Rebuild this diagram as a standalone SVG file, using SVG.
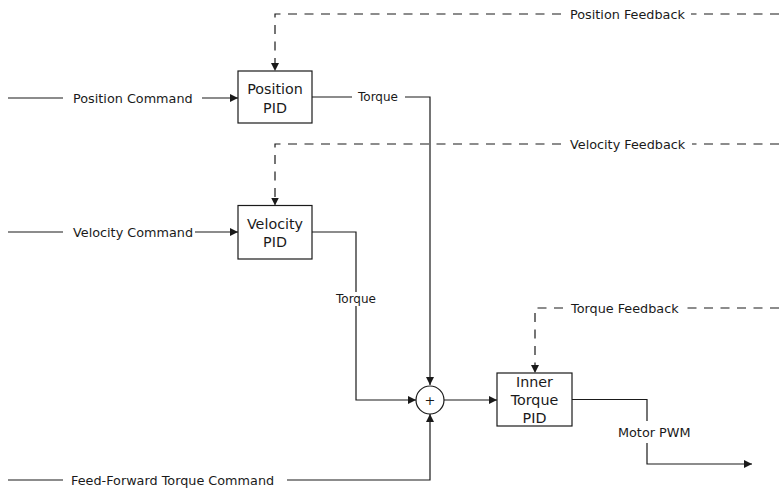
<svg xmlns="http://www.w3.org/2000/svg" width="779" height="489" viewBox="0 0 779 489">
<style>
.bg{fill:#ffffff}
.box{fill:#ffffff;stroke:#1a1a1a;stroke-width:1.2}
.ln{fill:none;stroke:#1a1a1a;stroke-width:1.2}
.dash{fill:none;stroke:#1a1a1a;stroke-width:1.2;stroke-dasharray:9,7.5}
.lbl{font-family:"DejaVu Sans",sans-serif;font-size:12.8px;fill:#1a1a1a}
.sm{font-family:"DejaVu Sans",sans-serif;font-size:12px;fill:#1a1a1a}
.bt{font-family:"DejaVu Sans",sans-serif;font-size:14.3px;fill:#1a1a1a;text-anchor:middle}
.plus{font-family:"DejaVu Sans",sans-serif;font-size:13px;fill:#1a1a1a;text-anchor:middle}
</style>
<defs>
<marker id="ah" markerUnits="userSpaceOnUse" markerWidth="9" markerHeight="9" refX="8" refY="4" orient="auto">
<path d="M0,0 L8,4 L0,8 z" fill="#1a1a1a"/>
</marker>
</defs>
<rect class="bg" x="0" y="0" width="779" height="489"/>
<g id="connectors">
<path class="ln" d="M8,98 H63"/>
<text class="lbl" x="73" y="102.5">Position Command</text>
<path class="ln" d="M202,98 H238" marker-end="url(#ah)"/>
<path class="ln" d="M8,232 H63"/>
<text class="lbl" x="73" y="236.5">Velocity Command</text>
<path class="ln" d="M195,232 H238" marker-end="url(#ah)"/>
<path class="ln" d="M8,480 H63"/>
<text class="lbl" x="71" y="484.5">Feed-Forward Torque Command</text>
<path class="ln" d="M287,480 H430 V414" marker-end="url(#ah)"/>
<path class="dash" d="M779,14 H691"/>
<text class="lbl" x="570" y="18.5">Position Feedback</text>
<path class="dash" d="M561,14 H275 V71" marker-end="url(#ah)"/>
<path class="dash" d="M779,144 H692"/>
<text class="lbl" x="570" y="148.5">Velocity Feedback</text>
<path class="dash" d="M561,144 H275 V205.5" marker-end="url(#ah)"/>
<path class="dash" d="M779,308 H684"/>
<text class="lbl" x="571" y="312.5">Torque Feedback</text>
<path class="dash" d="M563,308 H535 V373" marker-end="url(#ah)"/>
<path class="ln" d="M312,97 H352"/>
<text class="sm" x="358" y="101.3">Torque</text>
<path class="ln" d="M405,97 H430 V385" marker-end="url(#ah)"/>
<path class="ln" d="M312,232 H356 V292"/>
<text class="sm" x="336" y="303">Torque</text>
<path class="ln" d="M356,306 V400 H416" marker-end="url(#ah)"/>
<path class="ln" d="M444,400 H497" marker-end="url(#ah)"/>
<path class="ln" d="M572,399.5 H647 V421"/>
<text class="lbl" x="618" y="437">Motor PWM</text>
<path class="ln" d="M647,443 V464 H752" marker-end="url(#ah)"/>
</g>
<g id="position_pid">
<rect class="box" x="238" y="71" width="74" height="52"/>
<text class="bt" x="275" y="94.3">Position</text>
<text class="bt" x="275" y="113.3">PID</text>
</g>
<g id="velocity_pid">
<rect class="box" x="238" y="205.5" width="74" height="53.5"/>
<text class="bt" x="275" y="229.3">Velocity</text>
<text class="bt" x="275" y="246.7">PID</text>
</g>
<g id="sum">
<circle class="box" cx="430" cy="400" r="14"/>
<text class="plus" x="430" y="404.5">+</text>
</g>
<g id="inner_torque_pid">
<rect class="box" x="497" y="373" width="75" height="53"/>
<text class="bt" x="534.5" y="387.3">Inner</text>
<text class="bt" x="534.5" y="405">Torque</text>
<text class="bt" x="534.5" y="423.3">PID</text>
</g>
</svg>
